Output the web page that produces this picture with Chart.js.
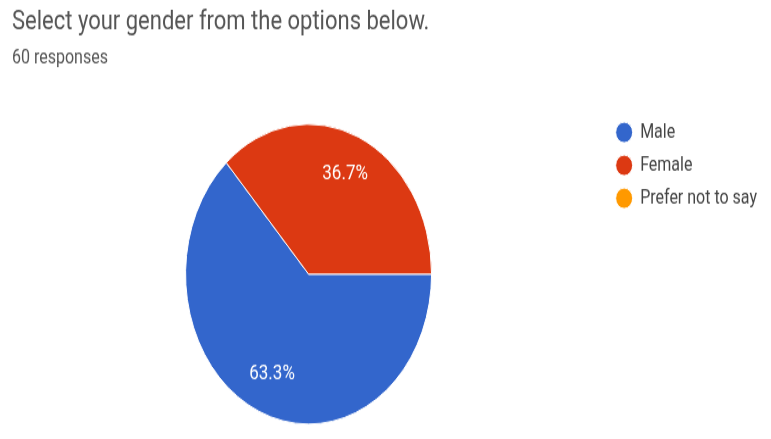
<!DOCTYPE html>
<html>
<head>
<meta charset="utf-8">
<script src="https://cdn.jsdelivr.net/npm/chart.js@4.4.1/dist/chart.umd.min.js"></script>
<style>
  html, body { margin: 0; padding: 0; background: #fff; width: 771px; height: 439px; }
  /* the reference picture is stretched vertically, so the whole chart is too */
  #wrap { width: 771px; height: 360px; transform: scaleY(1.2194); transform-origin: 0 0; }
</style>
</head>
<body>
<div id="wrap"><canvas id="gender-pie" width="771" height="360"></canvas></div>
<script>
const questionTitle = 'Select your gender from the options below.';
const responseNote = '60 responses';
const genderLabels = ['Male', 'Female', 'Prefer not to say'];
const genderCounts = [38, 22, 0];
const sliceColors = ['#3366cc', '#dc3912', '#ff9900'];

// percentage labels inside the slices, like google forms draws them
const sliceLabels = {
    id: 'sliceLabels',
    afterDatasetsDraw(chart) {
        const ctx = chart.ctx;
        const data = chart.data.datasets[0].data;
        const total = data.reduce((a, b) => a + b, 0);
        chart.getDatasetMeta(0).data.forEach((arc, i) => {
            if (!data[i]) return;
            const p = arc.getProps(['x', 'y', 'startAngle', 'endAngle', 'outerRadius'], true);
            const mid = (p.startAngle + p.endAngle) / 2;
            const r = p.outerRadius * 0.73;
            ctx.save();
            ctx.fillStyle = '#ffffff';
            ctx.font = '17px Roboto';
            ctx.textAlign = 'center';
            ctx.textBaseline = 'middle';
            ctx.fillText((data[i] / total * 100).toFixed(1) + '%', p.x + Math.cos(mid) * r, p.y + Math.sin(mid) * r);
            ctx.restore();
        });
    }
};

new Chart('gender-pie', {
    type: 'pie',
    data: {
        labels: genderLabels,
        datasets: [{
            data: genderCounts,
            backgroundColor: sliceColors,
            borderColor: '#ffffff',
            borderWidth: 1,
            radius: 123
        }]
    },
    options: {
        responsive: false,
        animation: false,
        rotation: 90,
        layout: { padding: { left: 12, right: 4, bottom: 0 } },
        plugins: {
            title: {
                display: true,
                text: questionTitle,
                align: 'start',
                color: '#555555',
                font: { family: 'Roboto', size: 22, weight: 'normal' },
                padding: { top: 5, bottom: 5 }
            },
            subtitle: {
                display: true,
                text: responseNote,
                align: 'start',
                color: '#555555',
                font: { family: 'Roboto', size: 16 },
                padding: { top: 2, bottom: 32 }
            },
            legend: {
                position: 'right',
                align: 'start',
                fullSize: false,
                labels: {
                    usePointStyle: true,
                    pointStyle: 'circle',
                    boxWidth: 17,
                    boxHeight: 12,
                    padding: 11,
                    color: '#444444',
                    font: { family: 'Roboto', size: 16 }
                }
            },
            tooltip: { enabled: false }
        }
    },
    plugins: [sliceLabels]
});
</script>
</body>
</html>
